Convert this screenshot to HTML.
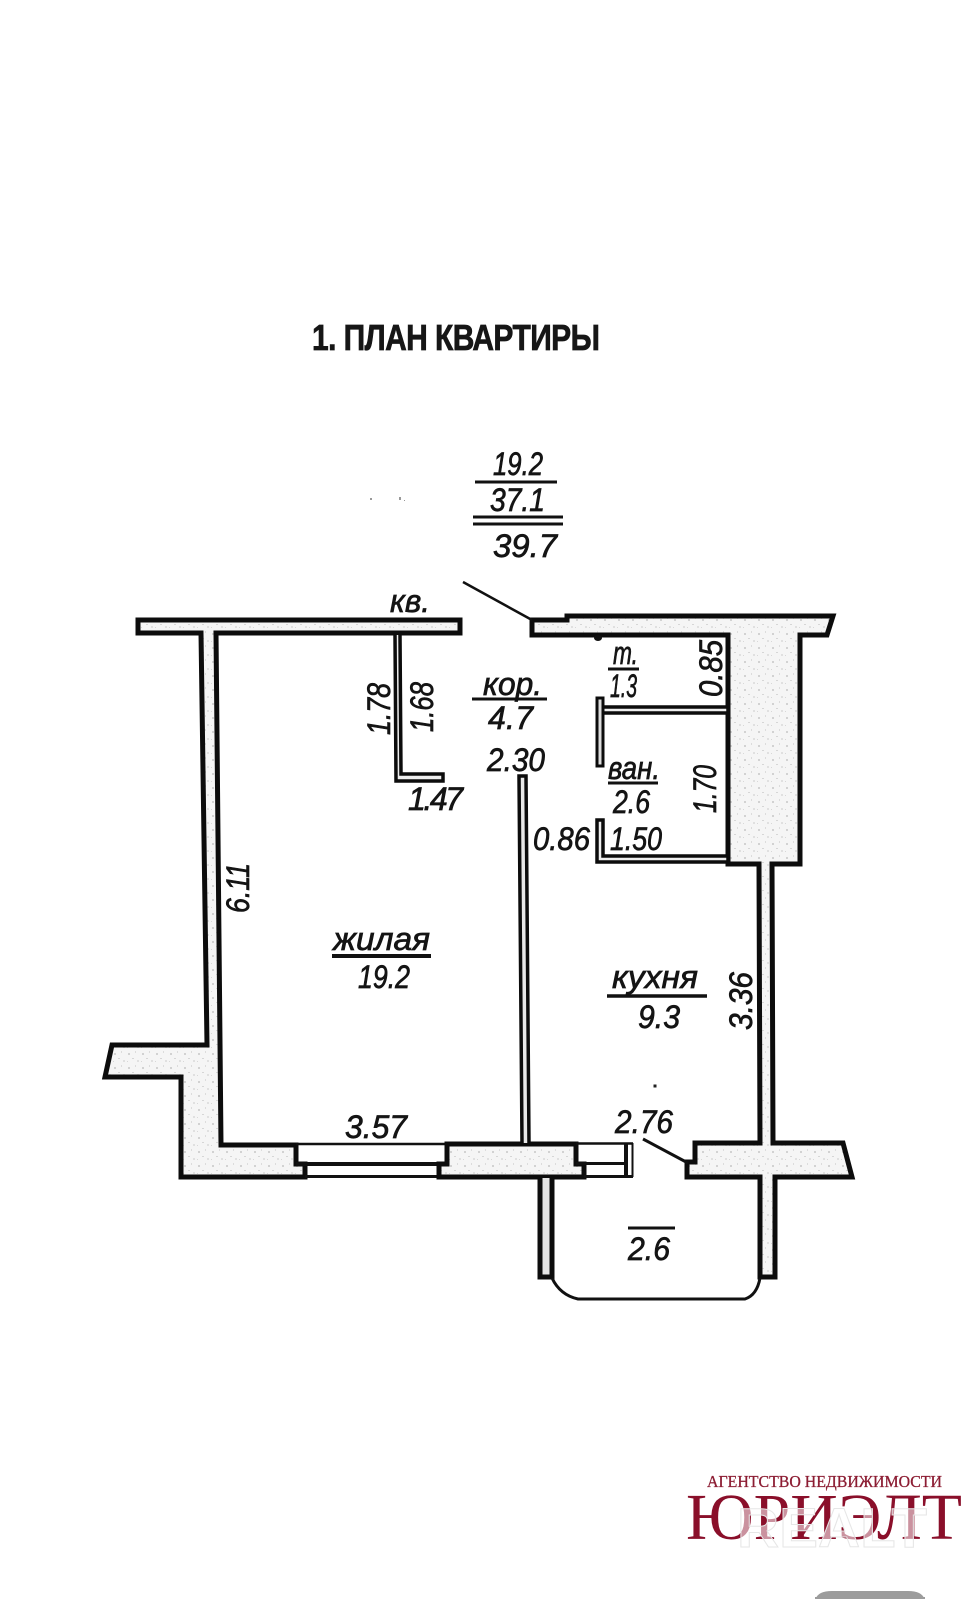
<!DOCTYPE html>
<html>
<head>
<meta charset="utf-8">
<style>
html,body{margin:0;padding:0;background:#fff;}
svg{display:block;}
.t{font-family:"Liberation Sans","DejaVu Sans",sans-serif;font-style:italic;font-size:32px;fill:#141414;stroke:#141414;stroke-width:.7px;}
.w{stroke:#0c0c0c;fill:url(#sp);stroke-linejoin:miter;}
.l{stroke:#111;fill:none;}
</style>
</head>
<body>
<svg width="978" height="1599" viewBox="0 0 978 1599" xmlns="http://www.w3.org/2000/svg">
<defs>
<pattern id="sp" width="14" height="14" patternUnits="userSpaceOnUse">
<rect width="14" height="14" fill="#f5f5f5"/>
<rect x="2" y="3" width="2" height="2" fill="#d2d2d2"/>
<rect x="9" y="1" width="1" height="2" fill="#dcdcdc"/>
<rect x="6" y="8" width="2" height="1" fill="#d6d6d6"/>
<rect x="11" y="10" width="2" height="2" fill="#e0e0e0"/>
<rect x="1" y="11" width="1" height="1" fill="#d8d8d8"/>
</pattern>
</defs>
<rect width="978" height="1599" fill="#fff"/>

<!-- title -->
<text transform="translate(312,350) scale(1,1.2)" font-family="'Liberation Sans',sans-serif" font-weight="700" font-size="30" fill="#161616" stroke="#161616" stroke-width=".6" textLength="288">1. ПЛАН КВАРТИРЫ</text>

<!-- summary -->
<text class="t" x="493" y="475" textLength="50" lengthAdjust="spacingAndGlyphs">19.2</text>
<line class="l" x1="475" y1="482" x2="557" y2="482" stroke-width="3"/>
<text class="t" x="490" y="511" textLength="55" lengthAdjust="spacingAndGlyphs">37.1</text>
<line class="l" x1="473" y1="517" x2="563" y2="517" stroke-width="3"/>
<line class="l" x1="473" y1="524" x2="563" y2="524" stroke-width="3"/>
<text class="t" x="493" y="557" textLength="64" lengthAdjust="spacingAndGlyphs">39.7</text>
<g fill="#999"><rect x="370" y="498" width="2" height="2"/><rect x="399" y="497" width="2" height="3"/><rect x="404" y="500" width="1" height="1"/></g>

<!-- left wall group -->
<path class="w" stroke-width="5" d="M138,620 H460 V633 H216 L221,1145 H296 V1164 H305 V1177 H181 V1077 H105 L112,1045 H207 L201,633 H138 Z"/>

<!-- window 1 -->
<line class="l" x1="296" y1="1144" x2="447" y2="1144" stroke-width="2.5"/>
<line class="l" x1="296" y1="1164" x2="449" y2="1164" stroke-width="4"/>
<line class="l" x1="305" y1="1176.5" x2="439" y2="1176.5" stroke-width="3"/>

<!-- middle wall -->
<path class="w" stroke-width="5" d="M447,1144 H576 V1164 H584 V1177 H439 V1164 H447 Z"/>

<!-- window 2 -->
<line class="l" x1="576" y1="1143.5" x2="633" y2="1143.5" stroke-width="2.5"/>
<line class="l" x1="576" y1="1163.5" x2="627" y2="1163.5" stroke-width="3"/>
<line class="l" x1="584" y1="1176.5" x2="633" y2="1176.5" stroke-width="3"/>
<line class="l" x1="626" y1="1143" x2="626" y2="1177" stroke-width="4"/>
<line class="l" x1="632.5" y1="1143" x2="632.5" y2="1177" stroke-width="2"/>

<!-- right wall group -->
<path class="w" stroke-width="5" d="M532,620 H567 V616 H833 L827,635 H800 V864 H772 L773,1143 H843 L852,1177 H775 V1277 H760 V1177 H687 V1162 H695 V1143 H760 L759,864 H728 V635 H532 Z"/>
<ellipse cx="598" cy="638" rx="4" ry="3" fill="#111"/>

<!-- bathroom partitions -->
<path class="w" stroke-width="3.5" d="M728,707 H602 V713 H728 Z" style="fill:#eee"/>
<rect class="w" x="597" y="698" width="6" height="68" stroke-width="3" style="fill:#ddd"/>
<path class="w" stroke-width="3.5" d="M728,856 H603 V820 H597 V862 H728 Z" style="fill:#eee"/>

<!-- closet partition -->
<path class="w" stroke-width="3.5" d="M395,635 L396,781 H443 V774 H401 L400,635" style="fill:#eee"/>

<!-- corridor partition -->
<path class="w" stroke-width="3.5" d="M522,1143 L519,776 H526 L529,1143" style="fill:#e8e8e8"/>

<!-- balcony -->
<path class="w" stroke-width="5" d="M540,1178 V1277 H552 V1178" style="fill:#e4e4e4"/>
<path class="l" stroke-width="3" d="M552,1278 Q560,1295 578,1299 H745 Q757,1295 760,1278"/>

<!-- door swings -->
<line class="l" x1="463" y1="582" x2="532" y2="620" stroke-width="2.5"/>
<line class="l" x1="643" y1="1139" x2="688" y2="1163" stroke-width="3"/>
<rect x="653.5" y="1084.5" width="3" height="3" fill="#222"/>

<!-- labels -->
<text class="t" x="390" y="612" textLength="40" lengthAdjust="spacingAndGlyphs">кв.</text>
<text class="t" transform="translate(390,735) rotate(-90)" x="0" y="0" textLength="52" lengthAdjust="spacingAndGlyphs">1.78</text>
<text class="t" transform="translate(433,732) rotate(-90)" x="0" y="0" textLength="50" lengthAdjust="spacingAndGlyphs">1.68</text>
<text class="t" x="408" y="810" textLength="55">1.47</text>

<text class="t" x="483" y="695" textLength="59" lengthAdjust="spacingAndGlyphs">кор.</text>
<line class="l" x1="472" y1="699" x2="547" y2="699" stroke-width="3"/>
<text class="t" x="488" y="729" textLength="45">4.7</text>
<text class="t" x="487" y="771" textLength="58" lengthAdjust="spacingAndGlyphs">2.30</text>

<text class="t" x="613" y="664" textLength="25" lengthAdjust="spacingAndGlyphs">т.</text>
<line class="l" x1="608" y1="669" x2="639" y2="669" stroke-width="3"/>
<text class="t" x="610" y="697" textLength="27" lengthAdjust="spacingAndGlyphs">1.3</text>
<text class="t" transform="translate(722,697) rotate(-90)" x="0" y="0" textLength="57" lengthAdjust="spacingAndGlyphs">0.85</text>

<text class="t" x="608" y="779" textLength="52" lengthAdjust="spacingAndGlyphs">ван.</text>
<line class="l" x1="608" y1="783" x2="658" y2="783" stroke-width="3"/>
<text class="t" x="613" y="813" textLength="37" lengthAdjust="spacingAndGlyphs">2.6</text>
<text class="t" transform="translate(716,813) rotate(-90)" x="0" y="0" textLength="48" lengthAdjust="spacingAndGlyphs">1.70</text>
<text class="t" x="533" y="850" textLength="57" lengthAdjust="spacingAndGlyphs">0.86</text>
<text class="t" x="610" y="850" textLength="52" lengthAdjust="spacingAndGlyphs">1.50</text>

<text class="t" transform="translate(249,913) rotate(-90)" x="0" y="0" textLength="50" lengthAdjust="spacingAndGlyphs">6.11</text>
<text class="t" x="333" y="950" textLength="97" lengthAdjust="spacingAndGlyphs">жилая</text>
<line class="l" x1="332" y1="956" x2="431" y2="956" stroke-width="4"/>
<text class="t" x="358" y="988" textLength="52" lengthAdjust="spacingAndGlyphs">19.2</text>

<text class="t" x="612" y="988" textLength="86" lengthAdjust="spacingAndGlyphs">кухня</text>
<line class="l" x1="607" y1="996" x2="707" y2="996" stroke-width="3.5"/>
<text class="t" x="638" y="1028" textLength="42" lengthAdjust="spacingAndGlyphs">9.3</text>
<text class="t" transform="translate(752,1030) rotate(-90)" x="0" y="0" textLength="58" lengthAdjust="spacingAndGlyphs">3.36</text>

<text class="t" x="345" y="1138" textLength="62" lengthAdjust="spacingAndGlyphs">3.57</text>
<text class="t" x="615" y="1133" textLength="58" lengthAdjust="spacingAndGlyphs">2.76</text>

<line class="l" x1="628" y1="1228" x2="675" y2="1228" stroke-width="3"/>
<text class="t" x="628" y="1260" textLength="42" lengthAdjust="spacingAndGlyphs">2.6</text>

<!-- logo -->
<text x="707" y="1487" font-family="'Liberation Serif',serif" font-size="17" fill="#8c1d33" stroke="#8c1d33" stroke-width=".3" textLength="235" lengthAdjust="spacingAndGlyphs">АГЕНТСТВО НЕДВИЖИМОСТИ</text>
<text x="686" y="1539" font-family="'Liberation Serif',serif" font-size="66" fill="#8a0f2a" textLength="276" lengthAdjust="spacingAndGlyphs">ЮРИЭЛТ</text>
<text x="737" y="1547" font-family="'Liberation Sans',sans-serif" font-weight="700" font-size="56" fill="#ffffff" fill-opacity="0.55" stroke="#e6e6e6" stroke-width="1" textLength="190" lengthAdjust="spacingAndGlyphs">REALT</text>

<!-- bottom pill -->
<path d="M815,1599 V1603 Q815,1591 832,1591 H908 Q925,1591 925,1603 V1599 Z" fill="#9c9c9c"/>
<rect x="815" y="1597" width="110" height="2" fill="#9c9c9c"/>
</svg>
</body>
</html>
